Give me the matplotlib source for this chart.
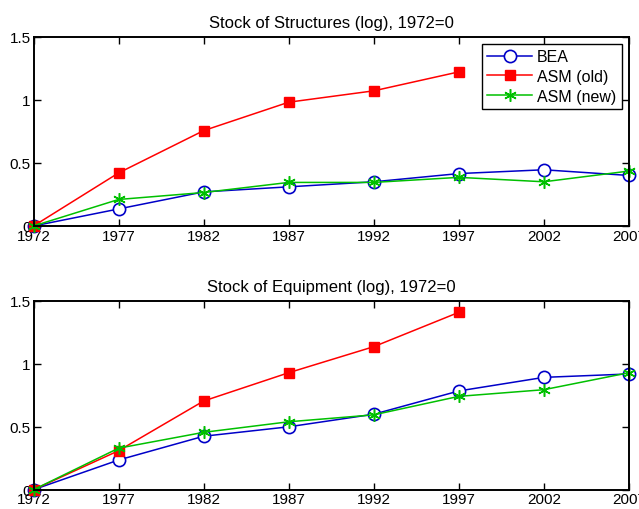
import matplotlib
matplotlib.use("Agg")
import matplotlib.pyplot as plt

plt.rcParams['font.family'] = ['Liberation Sans', 'DejaVu Sans']

years = [1972, 1977, 1982, 1987, 1992, 1997, 2002, 2007]
years_old = [1972, 1977, 1982, 1987, 1992, 1997]

# Stock of structures (log), 1972=0
struct_bea = [0, 0.135, 0.27, 0.31, 0.35, 0.415, 0.445, 0.40]
struct_old = [0, 0.42, 0.755, 0.98, 1.07, 1.22]
struct_new = [0, 0.21, 0.265, 0.345, 0.345, 0.385, 0.35, 0.435]

# Stock of equipment (log), 1972=0
equip_bea = [0, 0.236, 0.425, 0.50, 0.60, 0.785, 0.893, 0.92]
equip_old = [0, 0.31, 0.705, 0.93, 1.137, 1.41]
equip_new = [0, 0.33, 0.456, 0.54, 0.595, 0.742, 0.795, 0.93]

titles = ['Stock of Structures (log), 1972=0', 'Stock of Equipment (log), 1972=0']
yticks = [0, 0.5, 1, 1.5]
ytick_labels = ['0', '0.5', '1', '1.5']

BLUE = '#0000c8'
RED = '#ff0000'
GREEN = '#00c000'

fig = plt.figure(figsize=(6.39, 5.10), dpi=100)
W, H = 639, 510
boxes = [(33.5, 37.5, 629, 227), (33.5, 302, 629, 490.7)]
data = [(struct_bea, struct_old, struct_new), (equip_bea, equip_old, equip_new)]

for i, (box, (bea, old, new)) in enumerate(zip(boxes, data)):
    x0, y0, x1, y1 = box
    ax = fig.add_axes([x0 / W, 1 - y1 / H, (x1 - x0) / W, (y1 - y0) / H])
    ax.plot(years, bea, '-o', color=BLUE, lw=1.1, ms=8.8, mfc='white', mec=BLUE, mew=1.2, label='BEA')
    ax.plot(years_old, old, '-s', color=RED, lw=1.1, ms=7, mfc=RED, mec=RED, label='ASM (old)')
    ax.plot(years, new, '-', color=GREEN, lw=1.1, marker=(6, 2, 0), ms=9, mec=GREEN, mew=1.1,
            label='ASM (new)')
    ax.set_xlim(1972, 2007)
    ax.set_ylim(0, 1.5)
    ax.set_xticks(years)
    ax.set_yticks(yticks)
    ax.set_yticklabels(ytick_labels)
    ax.tick_params(direction='in', length=5, width=1, labelsize=11, top=True, right=True, pad=2)
    for s in ax.spines.values():
        s.set_linewidth(1.4)
    for m in ax.lines:
        m.set_clip_on(False)
    ax.set_title(titles[i], fontsize=12, pad=7)
    if i == 0:
        leg = ax.legend(loc='upper right', fontsize=11.5, handlelength=2.8, fancybox=False,
                        framealpha=1, borderaxespad=0.45, labelspacing=0.3, handletextpad=0.3,
                        borderpad=0.35)
        leg.get_frame().set_edgecolor('black')
        leg.get_frame().set_linewidth(1)

fig.savefig('out.png', dpi=100)
